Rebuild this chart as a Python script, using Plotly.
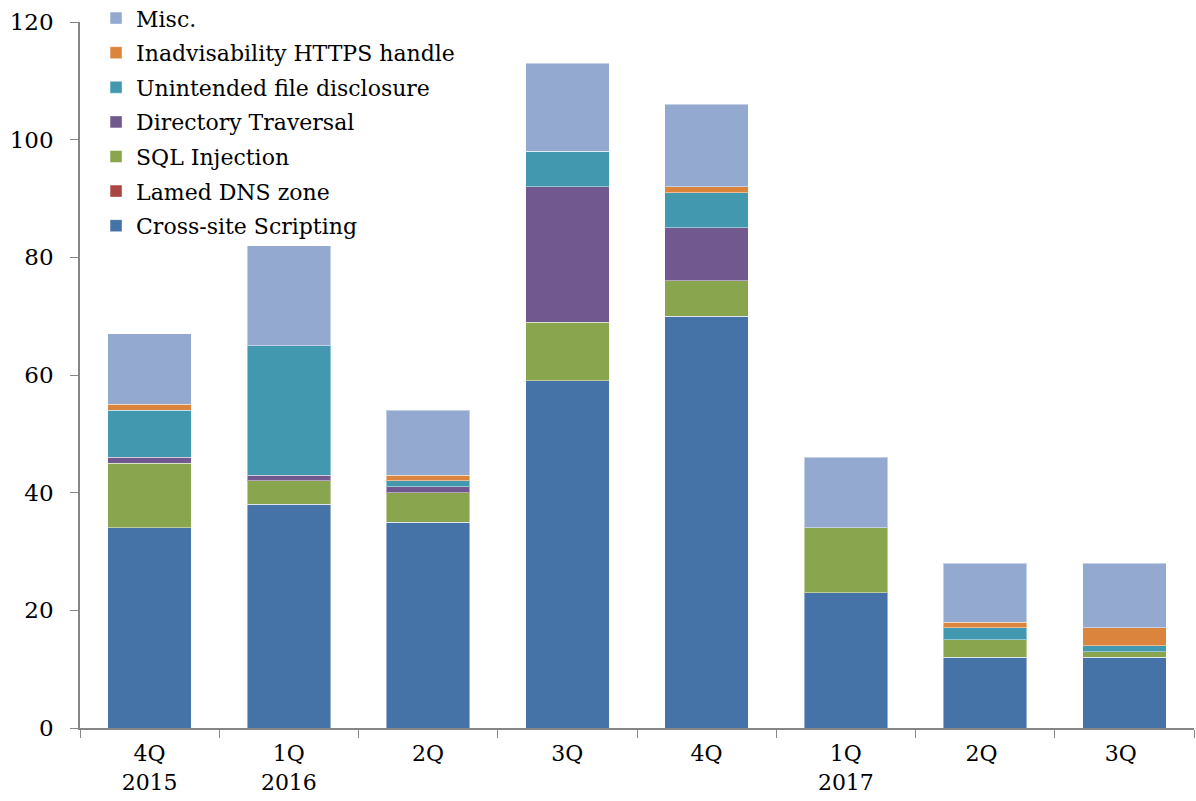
import plotly.graph_objects as go

categories = ["4Q<br>2015", "1Q<br>2016", "2Q", "3Q", "4Q", "1Q<br>2017", "2Q ", "3Q "]

xss = [34, 38, 35, 59, 70, 23, 12, 12]
lamed_dns = [0, 0, 0, 0, 0, 0, 0, 0]
sql = [11, 4, 5, 10, 6, 11, 3, 1]
dir_trav = [1, 1, 1, 23, 9, 0, 0, 0]
unintended = [8, 22, 1, 6, 6, 0, 2, 1]
https = [1, 0, 1, 0, 1, 0, 1, 3]
misc = [12, 17, 11, 15, 14, 12, 10, 11]

series = [
    ("Cross-site Scripting", xss, "#4572A7"),
    ("Lamed DNS zone", lamed_dns, "#AA4643"),
    ("SQL Injection", sql, "#89A54E"),
    ("Directory Traversal", dir_trav, "#71588F"),
    ("Unintended file disclosure", unintended, "#4198AF"),
    ("Inadvisability HTTPS handle", https, "#DB843D"),
    ("Misc.", misc, "#93A9CF"),
]

fig = go.Figure()
n = len(series)
for i, (name, vals, color) in enumerate(series):
    fig.add_trace(go.Bar(
        x=categories, y=vals, name=name,
        marker=dict(color=color, line=dict(color="rgba(255,255,255,0.45)", width=1)),
        legendgroup=f"g{i}",
        legendrank=n - i,
    ))

font_family = "DejaVu Serif"
fig.update_layout(
    barmode="stack",
    bargap=0.4,
    width=1196, height=801,
    margin=dict(l=80, r=2, t=22, b=73, autoexpand=False),
    paper_bgcolor="white", plot_bgcolor="white",
    font=dict(family=font_family, size=22, color="black"),
    showlegend=True,
    legend=dict(
        x=0.0144, y=1.035, xanchor="left", yanchor="top",
        traceorder="grouped",
        tracegroupgap=3,
        font=dict(family=font_family, size=22, color="black"),
        bgcolor="rgba(0,0,0,0)",
        itemwidth=30,
    ),
    xaxis=dict(
        type="category",
        showline=True, linecolor="#868686", linewidth=1.5,
        ticks="outside", tickson="boundaries", ticklen=8, tickcolor="#868686",
        ticklabelstandoff=5,
        showgrid=False,
        tickfont=dict(family=font_family, size=22),
    ),
    yaxis=dict(
        range=[0, 120], dtick=20,
        showline=True, linecolor="#868686", linewidth=1.5,
        ticks="outside", ticklen=8, tickcolor="#868686",
        ticklabelstandoff=12,
        showgrid=False, zeroline=False,
        tickfont=dict(family=font_family, size=23),
    ),
)

fig.write_html("out.html", config={"displayModeBar": False},
               post_script="document.body.style.margin='0';")
